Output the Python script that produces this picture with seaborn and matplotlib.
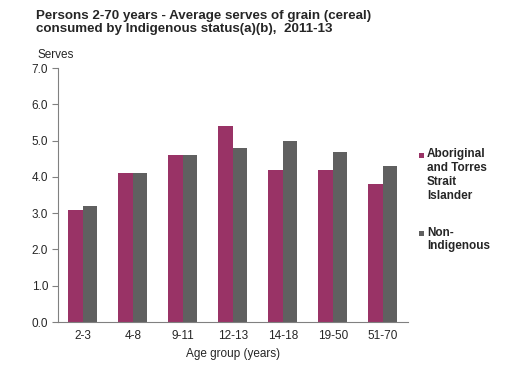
import matplotlib
matplotlib.use("Agg")
import matplotlib.pyplot as plt
import seaborn as sns
import pandas as pd
import numpy as np
from matplotlib.ticker import FixedLocator
from matplotlib.patches import Rectangle

categories = ["2-3", "4-8", "9-11", "12-13", "14-18", "19-50", "51-70"]
aboriginal = [3.1, 4.1, 4.6, 5.4, 4.2, 4.2, 3.8]
non_indigenous = [3.2, 4.1, 4.6, 4.8, 5.0, 4.7, 4.3]
series_names = ["Aboriginal\nand Torres\nStrait\nIslander", "Non-\nIndigenous"]
colors = ["#993366", "#606060"]

df = pd.DataFrame({
    "Age": categories * 2,
    "Serves": aboriginal + non_indigenous,
    "Status": [series_names[0]] * len(categories) + [series_names[1]] * len(categories),
})

sns.set_style("white")
plt.rcParams['font.family'] = ['Liberation Sans', 'DejaVu Sans']

fig = plt.figure(figsize=(5.08, 3.74), dpi=100)
ax = fig.add_axes([0.114, 0.139, 0.689, 0.679])
sns.barplot(data=df, x="Age", y="Serves", hue="Status", palette=colors,
            width=0.58, ax=ax, saturation=1, legend=False, linewidth=0, gap=0)

ax.set_ylim(0, 7)
ax.set_yticks(np.arange(0, 7.01, 1.0))
ax.set_yticklabels([f"{v:.1f}" for v in np.arange(0, 7.01, 1.0)], fontsize=8.5)
ax.set_xlim(-0.5, len(categories) - 0.5)
ax.tick_params(axis='x', which='major', length=0, labelsize=8.5, pad=6)
ax.xaxis.set_minor_locator(FixedLocator(np.arange(-0.5, len(categories), 1.0)))
ax.tick_params(axis='x', which='minor', length=4, color="#808080", width=0.8)
ax.tick_params(axis='y', which='major', length=4, color="#808080", width=0.8, left=True, pad=3)
for s in ["top", "right"]:
    ax.spines[s].set_visible(False)
for s in ["left", "bottom"]:
    ax.spines[s].set_color("#808080")
    ax.spines[s].set_linewidth(0.8)
ax.set_xlabel("Age group (years)", fontsize=8.5)
ax.set_ylabel("")

fig.text(0.071, 0.972, "Persons 2-70 years - Average serves of grain (cereal)\nconsumed by Indigenous status(a)(b),  2011-13",
         fontsize=9.6, fontweight="bold", va="top", ha="left", linespacing=1.05)
fig.text(0.073, 0.853, "Serves", fontsize=8.5, va="center", ha="left")

# legend drawn manually on the right
W, H = 508, 374
legend_items = [(series_names[0], colors[0], 155.5), (series_names[1], colors[1], 233.5)]
for label, col, yc in legend_items:
    fig.patches.append(Rectangle((419 / W, 1 - (yc + 2.5) / H), 5 / W, 5 / H,
                                 transform=fig.transFigure, facecolor=col, edgecolor="none"))
    fig.text(427 / W, 1 - (yc - 7) / H, label, fontsize=8.5, fontweight="bold",
             va="top", ha="left", linespacing=1.22)

fig.savefig("out.png", dpi=100, facecolor="white")
